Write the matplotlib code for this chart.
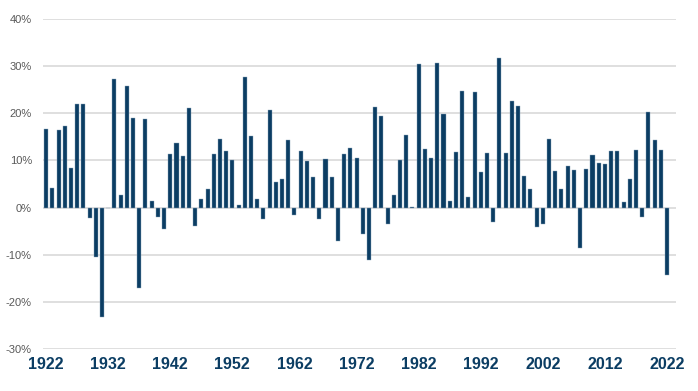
import numpy as np
import matplotlib.pyplot as plt
import matplotlib.ticker as mtick

plt.rcParams['font.family'] = ['Liberation Sans', 'DejaVu Sans']

# 연도별 수익률 (%)
years = np.arange(1922, 2023)
returns = [16.7, 4.2, 16.5, 17.4, 8.4, 21.9, 22.0, -2.3, -10.4, -23.2,
           0.0, 27.3, 2.7, 25.7, 19.0, -17.0, 18.7, 1.5, -2.0, -4.6,
           11.3, 13.8, 10.9, 21.1, -3.9, 1.8, 3.9, 11.4, 14.5, 12.0,
           10.1, 0.5, 27.7, 15.1, 1.9, -2.5, 20.6, 5.4, 6.0, 14.4,
           -1.5, 12.1, 9.9, 6.5, -2.4, 10.4, 6.5, -7.0, 11.3, 12.7,
           10.6, -5.7, -11.2, 21.4, 19.4, -3.4, 2.7, 10.1, 15.5, 0.2,
           30.4, 12.5, 10.5, 30.6, 19.9, 1.4, 11.8, 24.7, 2.3, 24.6,
           7.5, 11.5, -3.0, 31.7, 11.5, 22.7, 21.5, 6.7, 4.0, -4.2,
           -3.4, 14.5, 7.7, 3.9, 8.9, 8.0, -8.5, 8.2, 11.1, 9.4,
           9.3, 11.9, 12.1, 1.2, 6.1, 12.3, -2.0, 20.2, 14.3, 12.3,
           -14.4]
year_ticks = [1922, 1932, 1942, 1952, 1962, 1972, 1982, 1992, 2002, 2012, 2022]
pct_ticks = [-30, -20, -10, 0, 10, 20, 30, 40]

fig = plt.figure(figsize=(6.98, 3.91), dpi=100)
ax = fig.add_axes([0.0616, 0.1074, 0.9069, 0.844])

ax.bar(years, returns, width=0.65, color="#0b3d63", edgecolor="#8aa4bb",
       linewidth=0.3, zorder=3)

ax.set_xlim(1921.5, 2023.45)
ax.set_ylim(-30, 40)
ax.set_yticks(pct_ticks)
ax.yaxis.set_major_formatter(mtick.FuncFormatter(lambda v, p: f"{v:.0f}%"))
ax.set_xticks(year_ticks)
ax.grid(axis="y", color="#d9d9d9", linewidth=1.2, zorder=0)

for s in ax.spines.values():
    s.set_visible(False)
ax.tick_params(axis="both", length=0)
ax.tick_params(axis="y", labelsize=8, labelcolor="#595959", pad=8)
ax.tick_params(axis="x", labelsize=11.5, labelcolor="#0b3d63", pad=6)
for lab in ax.get_xticklabels():
    lab.set_fontweight("bold")

fig.savefig("out.png", dpi=100)
